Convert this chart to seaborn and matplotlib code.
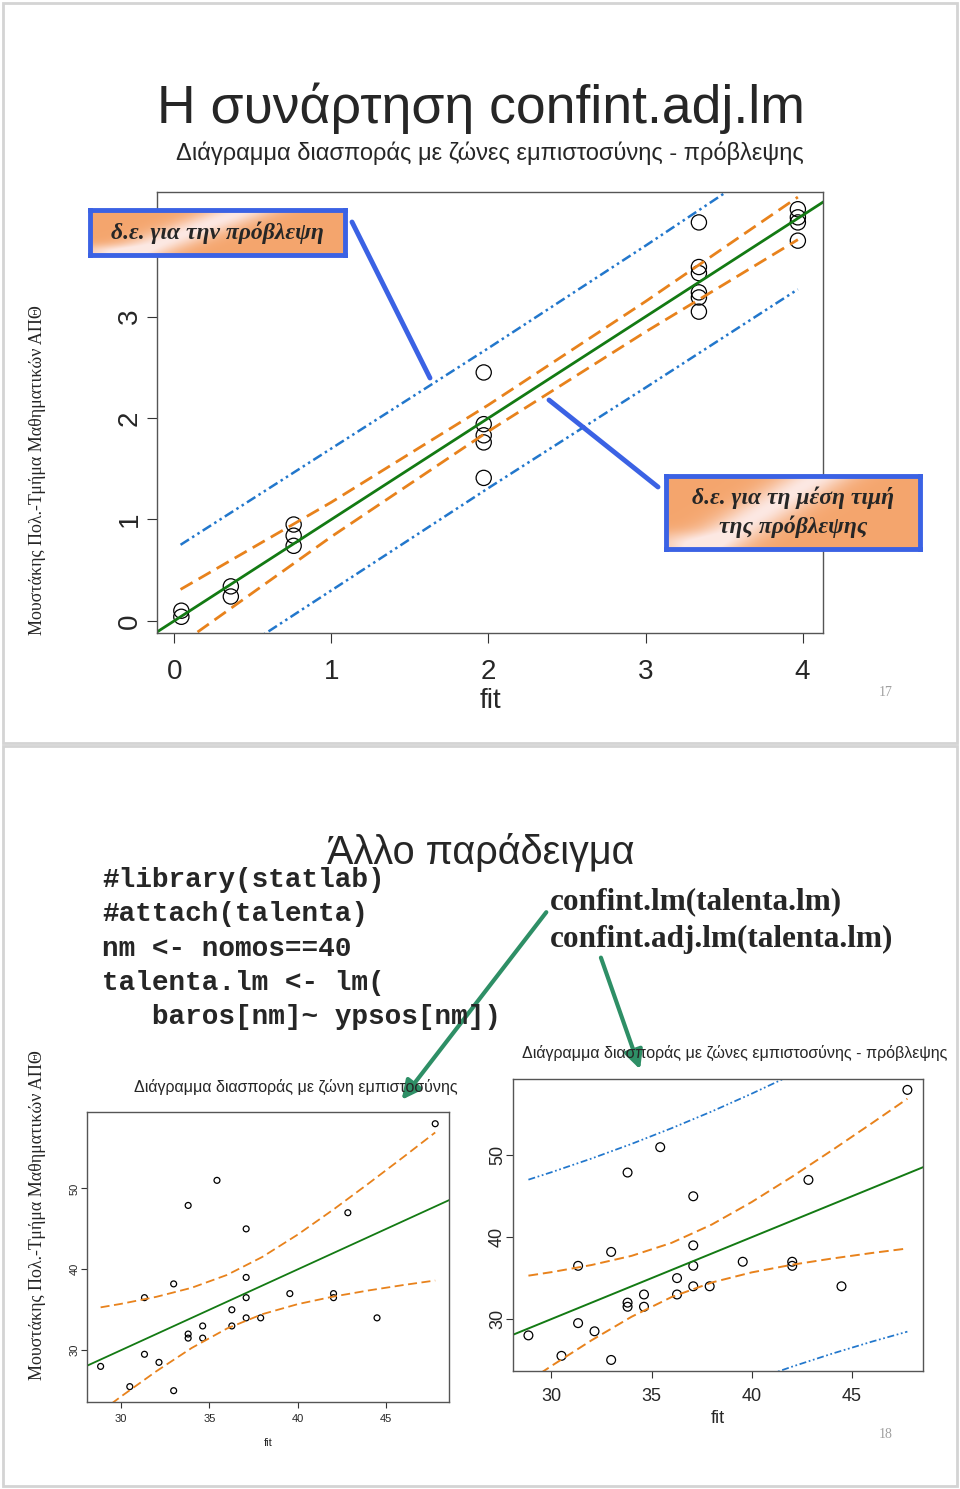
import numpy as np
import pandas as pd
import matplotlib
matplotlib.use('Agg')
import matplotlib.pyplot as plt
import seaborn as sns
from matplotlib.patches import Rectangle, FancyArrowPatch
from matplotlib.lines import Line2D

# ---- slide 17: fitted values vs observed (toy example)
pts17_x = [0.045, 0.045, 0.36, 0.36, 0.76, 0.76, 0.76,
           1.97, 1.97, 1.97, 1.97, 1.97,
           3.34, 3.34, 3.34, 3.34, 3.34, 3.34,
           3.97, 3.97, 3.97, 3.97]
pts17_y = [0.10, 0.04, 0.34, 0.24, 0.95, 0.84, 0.74,
           2.45, 1.94, 1.83, 1.76, 1.41,
           3.93, 3.49, 3.43, 3.24, 3.19, 3.05,
           4.06, 3.98, 3.93, 3.75]
band17_x = [0.04, 1.0, 2.0, 3.0, 3.97]
conf17_up = [0.31, 1.17, 2.13, 3.15, 4.18]
conf17_lo = [-0.23, 0.83, 1.87, 2.85, 3.76]
pred17_up = [0.75, 1.70, 2.69, 3.70, 4.70]
pred17_lo = [-0.67, 0.30, 1.31, 2.30, 3.27]
fitline17 = [-0.5, 4.5]

# ---- slide 18: talenta data, nomos == 40
fit18 = [28.85, 30.5, 31.33, 31.33, 32.15, 32.98, 32.98, 33.8, 33.8, 33.8,
         34.62, 34.62, 35.43, 36.27, 36.27, 37.08, 37.08, 37.08, 37.08, 37.9,
         39.55, 42.02, 42.02, 42.83, 44.48, 47.77]
baros18 = [28.0, 25.5, 29.5, 36.5, 28.5, 38.2, 25.0, 47.9, 32.0, 31.5,
           33.0, 31.5, 51.0, 35.0, 33.0, 45.0, 39.0, 36.5, 34.0, 34.0,
           37.0, 37.0, 36.5, 47.0, 34.0, 58.0]
band18_x = [28.85, 30, 32, 34, 36, 38, 40, 42, 44, 46, 47.77]
conf18_up = [35.3, 35.73, 36.6, 37.72, 39.31, 41.54, 44.3, 47.37, 50.61, 53.93, 56.92]
conf18_lo = [22.4, 24.27, 27.4, 30.28, 32.69, 34.46, 35.7, 36.63, 37.39, 38.07, 38.62]
pred18_up = [47.03, 47.94, 49.61, 51.4, 53.32, 55.36, 57.54, 59.83, 62.24, 64.76, 67.08]
pred18_lo = [10.67, 12.06, 14.39, 16.6, 18.68, 20.64, 22.46, 24.17, 25.76, 27.24, 28.46]
fitline18 = [20, 60]

code_lines = ['#library(statlab)', '#attach(talenta)', 'nm <- nomos==40',
              'talenta.lm <- lm(', '   baros[nm]~ ypsos[nm])']

GREEN = '#137a13'
ORANGE = '#e8821c'
BLUE = '#2277cc'
CALLOUT = '#3b62e4'
ARROW = '#2e8f66'
SANS = ['Liberation Sans', 'DejaVu Sans']
SERIF = ['Liberation Serif', 'DejaVu Serif']

W, H = 960, 1489


def fbox(l, t, r, b):
    return [l / W, 1 - b / H, (r - l) / W, (b - t) / H]


def fpt(x, y):
    return (x / W, 1 - y / H)


sns.set_style('white')
plt.rcParams['font.family'] = SANS
fig = plt.figure(figsize=(9.6, 14.89), dpi=100)


def r_axes(ax):
    for s in ax.spines.values():
        s.set_color('#555555')
        s.set_linewidth(1.0)
        s.set_visible(True)
    ax.tick_params(direction='out', color='#333333', length=5, width=0.8,
                   bottom=True, left=True)


def draw_panel(ax, px, py, bx, up, lo, fitline, pred=None, msize=40, lw=1.4):
    df = pd.DataFrame({'fit': px, 'y': py})
    sns.scatterplot(data=df, x='fit', y='y', ax=ax, s=msize, marker='o',
                    color='black', linewidth=0.9)
    ax.collections[-1].set_facecolor('none')
    ax.collections[-1].set_edgecolor('black')
    sns.lineplot(x=fitline, y=fitline, ax=ax, color=GREEN, lw=lw, estimator=None, sort=False)
    for band in (up, lo):
        sns.lineplot(x=bx, y=band, ax=ax, color=ORANGE, lw=lw, estimator=None, sort=False)
        ax.lines[-1].set_linestyle((0, (5, 2.5)))
    if pred is not None:
        for band in pred:
            sns.lineplot(x=bx, y=band, ax=ax, color=BLUE, lw=lw * 0.9, estimator=None, sort=False)
            ax.lines[-1].set_linestyle((0, (4, 1.5, 1, 1.5, 1, 1.5)))
    ax.set_xlabel('')
    ax.set_ylabel('')
    r_axes(ax)


def rotate_yticks(ax):
    for lab in ax.get_yticklabels():
        lab.set_rotation(90)
        lab.set_va('center')


# page frames
fig.add_artist(Rectangle(fpt(3, 743), 954 / W, 740 / H, transform=fig.transFigure,
                         fill=False, ec='#d4d4d4', lw=2))
fig.add_artist(Rectangle(fpt(3, 1486), 954 / W, 740 / H, transform=fig.transFigure,
                         fill=False, ec='#d4d4d4', lw=2))

# ================= slide 17
fig.text(*fpt(481, 108), 'Η συνάρτηση confint.adj.lm', ha='center', va='center',
         fontsize=38.5)
fig.text(*fpt(490, 153), 'Διάγραμμα διασποράς με ζώνες εμπιστοσύνης - πρόβλεψης',
         ha='center', va='center', fontsize=17)

ax1 = fig.add_axes(fbox(157, 192, 823, 633))
draw_panel(ax1, pts17_x, pts17_y, band17_x, conf17_up, conf17_lo, fitline17,
           pred=(pred17_up, pred17_lo), msize=120, lw=2.0)
ax1.set_xlim(-0.11, 4.13)
ax1.set_ylim(-0.12, 4.23)
ax1.set_xticks([0, 1, 2, 3, 4])
ax1.set_yticks([0, 1, 2, 3])
ax1.tick_params(labelsize=20, length=7)
ax1.tick_params(axis='x', pad=12)
ax1.tick_params(axis='y', pad=3)
rotate_yticks(ax1)
ax1.set_xlabel('fit', fontsize=20, labelpad=2)

# callout boxes


def gradient_box(rect, lines, ys):
    bx = fig.add_axes(fbox(*rect))
    gx, gy = np.meshgrid(np.linspace(0, 1, 240), np.linspace(0, 1, 80))
    streak = np.exp(-((gx - 0.38) + (gy - 0.5) * 0.45) ** 2 / 0.02)
    streak = np.clip(streak + 0.5 * np.exp(-((gx - 0.05) ** 2 + (gy - 0.9) ** 2) / 0.02), 0, 1)
    orange = np.array([0.96, 0.65, 0.43])
    light = np.array([0.99, 0.91, 0.89])
    img = orange * (1 - streak[..., None]) + light * streak[..., None]
    bx.imshow(img, aspect='auto', extent=(0, 1, 0, 1))
    bx.set_xticks([])
    bx.set_yticks([])
    for s in bx.spines.values():
        s.set_color(CALLOUT)
        s.set_linewidth(3.5)
    for txt, y in zip(lines, ys):
        bx.text(0.5, y, txt, ha='center', va='center', fontsize=17, family=SERIF,
                style='italic', weight='bold', transform=bx.transAxes)


fig.add_artist(Line2D([352 / W, 430 / W], [1 - 222 / H, 1 - 378 / H],
                      transform=fig.transFigure, color=CALLOUT, lw=3.5))
fig.add_artist(Line2D([549 / W, 658 / W], [1 - 400 / H, 1 - 487 / H],
                      transform=fig.transFigure, color=CALLOUT, lw=3.5))
gradient_box((90, 210, 345, 255), ['δ.ε. για την πρόβλεψη'], [0.5])
gradient_box((666, 476, 920, 549), ['δ.ε. για τη μέση τιμή', 'της πρόβλεψης'], [0.7, 0.3])

fig.text(*fpt(886, 692), '17', ha='center', va='center', fontsize=10,
         family=SERIF, color='#a0a0a0')
fig.text(*fpt(38, 470), 'Μουστάκης Πολ.-Τμήμα Μαθηματικών ΑΠΘ', rotation=90,
         ha='center', va='center', fontsize=13, family=SERIF)

# ================= slide 18
fig.text(*fpt(481, 852), 'Άλλο παράδειγμα', ha='center', va='center',
         fontsize=28.5)
for i, line in enumerate(code_lines):
    fig.text(*fpt(102, 880 + 34.3 * i), line, ha='left', va='center', fontsize=20,
             family=['Liberation Mono', 'DejaVu Sans Mono'], weight='bold')
fig.text(*fpt(550, 902), 'confint.lm(talenta.lm)', ha='left', va='center',
         fontsize=22.5, family=SERIF, weight='bold')
fig.text(*fpt(550, 939), 'confint.adj.lm(talenta.lm)', ha='left', va='center',
         fontsize=22.5, family=SERIF, weight='bold')

ax2 = fig.add_axes(fbox(87, 1112, 449, 1402))
draw_panel(ax2, fit18, baros18, band18_x, conf18_up, conf18_lo, fitline18,
           msize=18, lw=1.3)
ax2.set_xlim(28.08, 48.55)
ax2.set_ylim(23.6, 59.45)
ax2.set_xticks([30, 35, 40, 45])
ax2.set_yticks([30, 40, 50])
ax2.tick_params(labelsize=8, length=4)
ax2.tick_params(axis='x', pad=5)
ax2.tick_params(axis='y', pad=1)
rotate_yticks(ax2)
ax2.set_xlabel('fit', fontsize=8, labelpad=10)
fig.text(*fpt(296, 1087), 'Διάγραμμα διασποράς με ζώνη εμπιστοσύνης',
         ha='center', va='center', fontsize=11.5)

ax3 = fig.add_axes(fbox(513, 1079, 923, 1371))
draw_panel(ax3, fit18, baros18, band18_x, conf18_up, conf18_lo, fitline18,
           pred=(pred18_up, pred18_lo), msize=40, lw=1.4)
ax3.set_xlim(28.08, 48.55)
ax3.set_ylim(23.65, 59.33)
ax3.set_xticks([30, 35, 40, 45])
ax3.set_yticks([30, 40, 50])
ax3.tick_params(labelsize=13, length=5)
ax3.tick_params(axis='x', pad=7)
ax3.tick_params(axis='y', pad=0)
rotate_yticks(ax3)
ax3.set_xlabel('fit', fontsize=13, labelpad=4)
fig.text(*fpt(735, 1053), 'Διάγραμμα διασποράς με ζώνες εμπιστοσύνης - πρόβλεψης',
         ha='center', va='center', fontsize=11.5)

# green arrows from the code to the plots
for (x0, y0), (x1, y1) in [((548, 910), (400, 1102)), ((600, 955), (641, 1072))]:
    fig.add_artist(FancyArrowPatch(fpt(x0, y0), fpt(x1, y1), transform=fig.transFigure,
                                   arrowstyle='-|>', mutation_scale=28, lw=3, color=ARROW))

fig.text(*fpt(886, 1435), '18', ha='center', va='center', fontsize=10,
         family=SERIF, color='#a0a0a0')
fig.text(*fpt(38, 1215), 'Μουστάκης Πολ.-Τμήμα Μαθηματικών ΑΠΘ', rotation=90,
         ha='center', va='center', fontsize=13, family=SERIF)

fig.savefig('out.png', dpi=100)
